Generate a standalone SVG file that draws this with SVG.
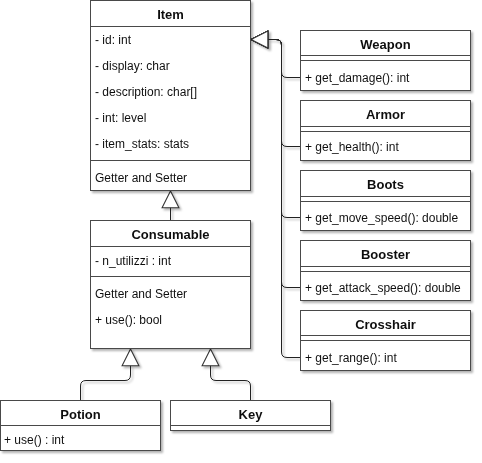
<svg xmlns="http://www.w3.org/2000/svg" width="482" height="463" viewBox="0 0 482 463">
<defs>
<filter id="sh" x="-10%" y="-10%" width="130%" height="140%">
<feDropShadow dx="2" dy="2" stdDeviation="1.2" flood-color="#000" flood-opacity="0.3"/>
</filter>
<marker id="tri" markerUnits="userSpaceOnUse" markerWidth="20" markerHeight="20" viewBox="-1 -1 19 19" refX="16" refY="8" orient="auto">
<path d="M0,0 L16,8 L0,16 Z" fill="#fff" stroke="#333" stroke-width="1"/>
</marker>
</defs>
<style>
.box{fill:#fff;stroke:#4a4a4a;stroke-width:1}
.ln{stroke:#4a4a4a;stroke-width:1;fill:none}
.t{font-family:"Liberation Sans",Arial,sans-serif;font-size:12px;fill:#111}
.h{font-family:"Liberation Sans",Arial,sans-serif;font-size:13px;font-weight:bold;fill:#111;text-anchor:middle}
.e{fill:none;stroke:#222;stroke-width:1}
</style>
<rect width="482" height="463" fill="#fff"/>
<g id="connectors" filter="url(#sh)">
<path class="e" d="M170.5,220 V191" marker-end="url(#tri)"/>
<path class="e" d="M300,77.5 H287 Q281.5,77.5 281.5,72 V45 Q281.5,39.5 276,39.5 H251" marker-end="url(#tri)"/>
<path class="e" d="M300,146.5 H287 Q281.5,146.5 281.5,141 V45 Q281.5,39.5 276,39.5 H251" marker-end="url(#tri)"/>
<path class="e" d="M300,217.5 H287 Q281.5,217.5 281.5,212 V45 Q281.5,39.5 276,39.5 H251" marker-end="url(#tri)"/>
<path class="e" d="M300,287.5 H287 Q281.5,287.5 281.5,282 V45 Q281.5,39.5 276,39.5 H251" marker-end="url(#tri)"/>
<path class="e" d="M300,357.5 H287 Q281.5,357.5 281.5,352 V45 Q281.5,39.5 276,39.5 H251" marker-end="url(#tri)"/>
<path class="e" d="M80.5,400 V386 Q80.5,380.5 86,380.5 H125 Q130.5,380.5 130.5,375 V349" marker-end="url(#tri)"/>
<path class="e" d="M250.5,400 V386 Q250.5,380.5 245,380.5 H216 Q210.5,380.5 210.5,375 V349" marker-end="url(#tri)"/>
</g>
<g id="item" filter="url(#sh)">
<rect class="box" x="90.5" y="0.5" width="160" height="190"/>
<line class="ln" x1="90.5" y1="26.5" x2="250.5" y2="26.5"/>
<line class="ln" x1="90.5" y1="160.5" x2="250.5" y2="160.5"/>
<text class="h" x="170.5" y="18.5">Item</text>
<text class="t" x="95" y="44">- id: int</text>
<text class="t" x="95" y="70">- display: char</text>
<text class="t" x="95" y="96">- description: char[]</text>
<text class="t" x="95" y="122">- int: level</text>
<text class="t" x="95" y="148">- item_stats: stats</text>
<text class="t" x="95" y="182">Getter and Setter</text>
</g>
<g id="consumable" filter="url(#sh)">
<rect class="box" x="90.5" y="220.5" width="160" height="128"/>
<line class="ln" x1="90.5" y1="246.5" x2="250.5" y2="246.5"/>
<line class="ln" x1="90.5" y1="276.5" x2="250.5" y2="276.5"/>
<text class="h" x="170.5" y="239">Consumable</text>
<text class="t" x="95" y="264.5">- n_utilizzi : int</text>
<text class="t" x="95" y="298">Getter and Setter</text>
<text class="t" x="95" y="324">+ use(): bool</text>
</g>
<g id="potion" filter="url(#sh)">
<rect class="box" x="0.5" y="400.5" width="160" height="50"/>
<line class="ln" x1="0.5" y1="425.5" x2="160.5" y2="425.5"/>
<text class="h" x="80.5" y="418.5">Potion</text>
<text class="t" x="4" y="444">+ use() : int</text>
</g>
<g id="key" filter="url(#sh)">
<rect class="box" x="170.5" y="400.5" width="160" height="30"/>
<line class="ln" x1="170.5" y1="425.5" x2="330.5" y2="425.5"/>
<text class="h" x="250.5" y="418.5">Key</text>
</g>
<g id="weapon" filter="url(#sh)">
<rect class="box" x="300.5" y="30.5" width="170" height="60"/>
<line class="ln" x1="300.5" y1="55.5" x2="470.5" y2="55.5"/>
<line class="ln" x1="300.5" y1="60.5" x2="470.5" y2="60.5"/>
<text class="h" x="385.5" y="48.5">Weapon</text>
<text class="t" x="305" y="82">+ get_damage(): int</text>
</g>
<g id="armor" filter="url(#sh)">
<rect class="box" x="300.5" y="100.5" width="170" height="60"/>
<line class="ln" x1="300.5" y1="126.5" x2="470.5" y2="126.5"/>
<line class="ln" x1="300.5" y1="131.5" x2="470.5" y2="131.5"/>
<text class="h" x="385.5" y="118.5">Armor</text>
<text class="t" x="305" y="151">+ get_health(): int</text>
</g>
<g id="boots" filter="url(#sh)">
<rect class="box" x="300.5" y="170.5" width="170" height="60"/>
<line class="ln" x1="300.5" y1="196.5" x2="470.5" y2="196.5"/>
<line class="ln" x1="300.5" y1="201.5" x2="470.5" y2="201.5"/>
<text class="h" x="385.5" y="188.5">Boots</text>
<text class="t" x="305" y="222">+ get_move_speed(): double</text>
</g>
<g id="booster" filter="url(#sh)">
<rect class="box" x="300.5" y="240.5" width="170" height="60"/>
<line class="ln" x1="300.5" y1="266.5" x2="470.5" y2="266.5"/>
<line class="ln" x1="300.5" y1="271.5" x2="470.5" y2="271.5"/>
<text class="h" x="385.5" y="258.5">Booster</text>
<text class="t" x="305" y="292">+ get_attack_speed(): double</text>
</g>
<g id="crosshair" filter="url(#sh)">
<rect class="box" x="300.5" y="310.5" width="170" height="60"/>
<line class="ln" x1="300.5" y1="335.5" x2="470.5" y2="335.5"/>
<line class="ln" x1="300.5" y1="340.5" x2="470.5" y2="340.5"/>
<text class="h" x="385.5" y="328.5">Crosshair</text>
<text class="t" x="305" y="362">+ get_range(): int</text>
</g>
</svg>
